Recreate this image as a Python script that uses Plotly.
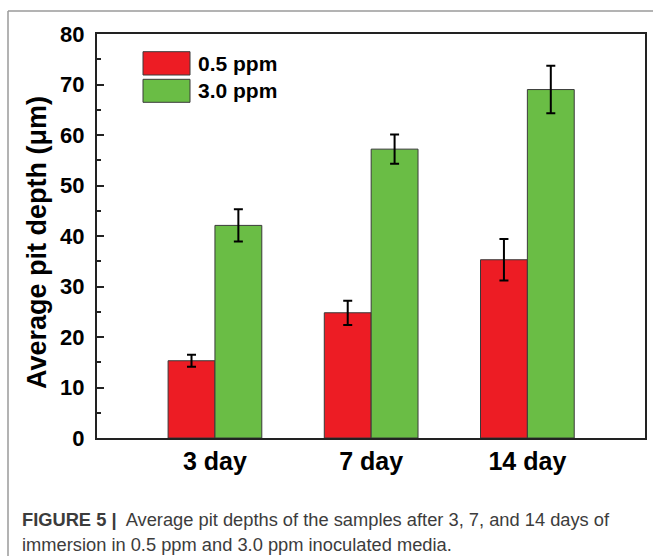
import plotly.graph_objects as go

categories = ["3 day", "7 day", "14 day"]
series_names = ["0.5 ppm", "3.0 ppm"]
low_ppm = [15.3, 24.8, 35.3]
low_err = [1.2, 2.4, 4.1]
high_ppm = [42.1, 57.2, 69.0]
high_err = [3.2, 2.9, 4.7]
y_ticks = [0, 10, 20, 30, 40, 50, 60, 70, 80]

RED = "#ED1C24"
GREEN = "#6ABD45"

W, H = 653, 556
L, R, T, B = 97, 8, 34, 118
PW, PH = W - L - R, H - T - B

def px(x):
    return (x - L) / PW

def py(y):
    return (H - B - y) / PH

fig = go.Figure()
for name, vals, errs, col in [(series_names[0], low_ppm, low_err, RED),
                              (series_names[1], high_ppm, high_err, GREEN)]:
    fig.add_trace(go.Bar(
        x=list(range(len(categories))), y=vals, name=name,
        marker=dict(color=col, line=dict(color="#3a3a3a", width=1)),
        error_y=dict(type="data", array=errs, color="black", thickness=2, width=4.5),
        showlegend=False,
    ))

shapes = []
annotations = []
# outer figure frame (top and left edges)
shapes.append(dict(type="line", xref="paper", yref="paper", x0=px(8), x1=px(653), y0=py(11), y1=py(11),
                   line=dict(color="#9a9a9a", width=1.5)))
shapes.append(dict(type="line", xref="paper", yref="paper", x0=px(8), x1=px(8), y0=py(11), y1=py(556),
                   line=dict(color="#9a9a9a", width=1.5)))
# legend
leg = [(series_names[0], RED, 51.7, 75.0), (series_names[1], GREEN, 79.3, 102.3)]
for name, col, ytop, ybot in leg:
    shapes.append(dict(type="rect", xref="paper", yref="paper", x0=px(143), x1=px(190),
                       y0=py(ybot), y1=py(ytop), fillcolor=col, line=dict(color="#3a3a3a", width=1)))
    annotations.append(dict(xref="paper", yref="paper", x=px(196), y=py((ytop + ybot) / 2),
                            xanchor="left", yanchor="middle", showarrow=False, text="<b>%s</b>" % name,
                            font=dict(family="Liberation Sans, Arial", size=21, color="black")))
# y title
annotations.append(dict(xref="paper", yref="paper", x=px(37), y=py(243), textangle=-90,
                        xanchor="center", yanchor="middle", showarrow=False,
                        text="<b>Average pit depth (μm)</b>",
                        font=dict(family="Liberation Sans, Arial", size=27, color="black")))
# caption
cap_font = dict(family="Liberation Sans, Arial", size=18.3, color="#3c3c3c")
annotations.append(dict(xref="paper", yref="paper", x=px(20), y=py(519), xanchor="left", yanchor="middle",
                        showarrow=False, font=cap_font,
                        text="<b>FIGURE 5</b> <b>|</b>  Average pit depths of the samples after 3, 7, and 14 days of"))
annotations.append(dict(xref="paper", yref="paper", x=px(20), y=py(544), xanchor="left", yanchor="middle",
                        showarrow=False, font=cap_font,
                        text="immersion in 0.5 ppm and 3.0 ppm inoculated media."))

fig.update_layout(
    width=W, height=H,
    margin=dict(l=L, r=R, t=T, b=B, autoexpand=False),
    paper_bgcolor="white", plot_bgcolor="white",
    barmode="group", bargap=0.4, bargroupgap=0,
    font=dict(family="Liberation Sans, Arial", color="black"),
    shapes=shapes, annotations=annotations,
    showlegend=False,
)
fig.update_xaxes(
    range=[-0.755, 2.753], tickmode="array", tickvals=list(range(len(categories))),
    ticktext=["<b>%s</b>" % c for c in categories],
    showline=True, linecolor="#222222", linewidth=2, mirror=True, ticks="",
    tickfont=dict(size=25, family="Liberation Sans, Arial"), showgrid=False, zeroline=False,
    ticklabelstandoff=0,
)
fig.update_yaxes(
    range=[0, 80], tickmode="array", tickvals=y_ticks, ticktext=["<b>%d</b>" % v for v in y_ticks],
    showline=True, linecolor="#222222", linewidth=2, mirror=True,
    ticks="inside", ticklen=7, tickwidth=1.5, tickcolor="#222222",
    minor=dict(dtick=5, ticks="inside", ticklen=4, tickwidth=1.5, tickcolor="#222222"),
    tickfont=dict(size=22, family="Liberation Sans, Arial"), showgrid=False, zeroline=False,
    ticklabelstandoff=6,
)
fig.write_html("out.html")
